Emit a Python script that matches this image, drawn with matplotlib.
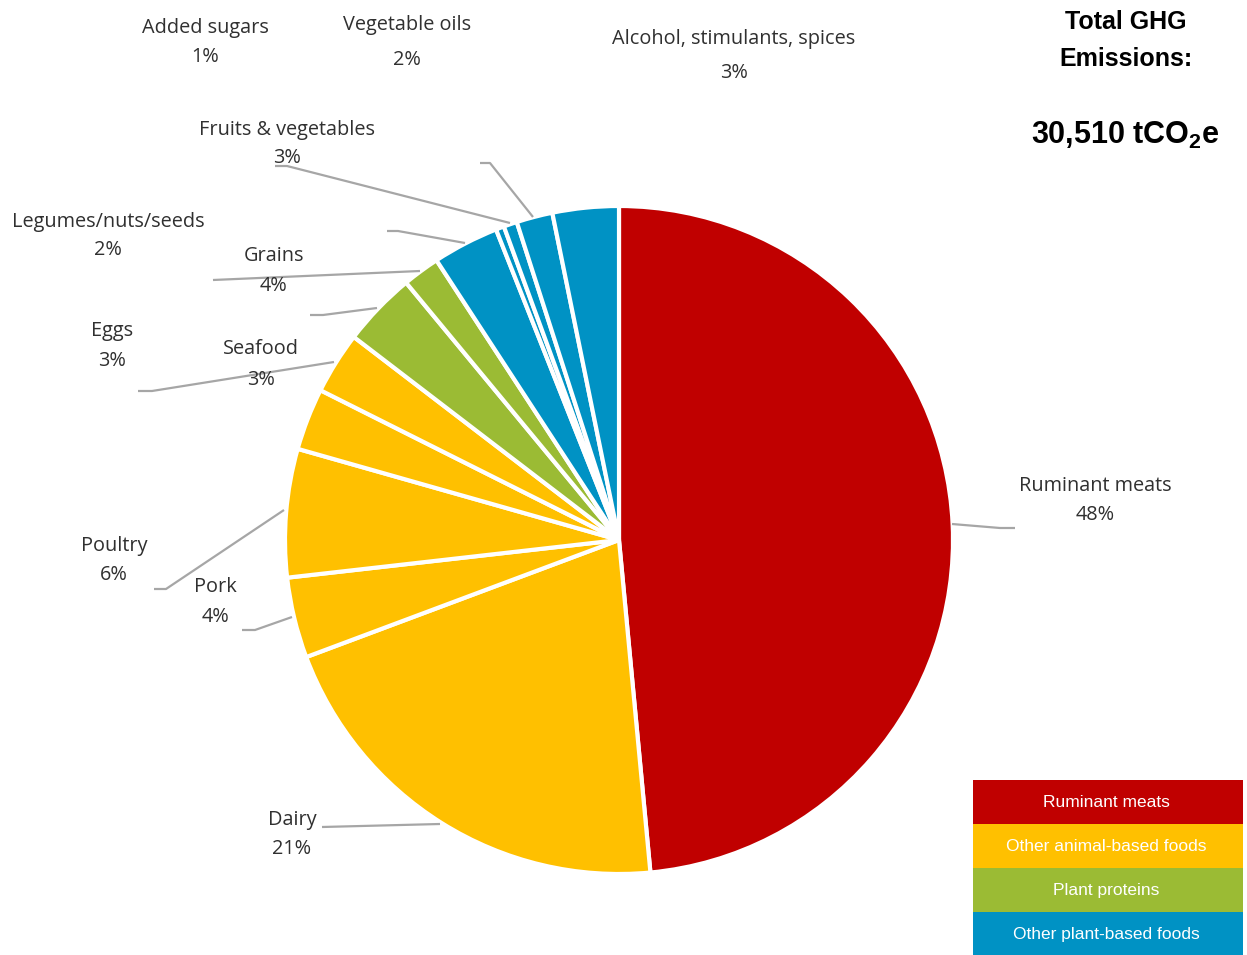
import matplotlib.pyplot as plt
from matplotlib.patches import Rectangle

# share of total emissions, % (clockwise from 12 o'clock)
foods = ["Ruminant meats", "Dairy", "Pork", "Poultry", "Eggs", "Seafood",
         "Grains", "Legumes/nuts/seeds", "Fruits & vegetables", "Other",
         "Added sugars", "Vegetable oils", "Alcohol, stimulants, spices"]
shares = [48.5, 20.8, 3.9, 6.2, 3.0, 3.0, 3.6, 1.8, 3.2, 0.4, 0.65, 1.75, 3.2]
groups = ["Ruminant meats", "Other animal-based foods", "Other animal-based foods",
          "Other animal-based foods", "Other animal-based foods", "Other animal-based foods",
          "Plant proteins", "Plant proteins", "Other plant-based foods",
          "Other plant-based foods", "Other plant-based foods", "Other plant-based foods",
          "Other plant-based foods"]
show_label = [True] * 9 + [False] + [True] * 3
total_ghg = "30,510"

group_names = ["Ruminant meats", "Other animal-based foods", "Plant proteins",
               "Other plant-based foods"]
group_colors = {"Ruminant meats": "#C00000", "Other animal-based foods": "#FFC000",
                "Plant proteins": "#9BBB34", "Other plant-based foods": "#0092C4"}

# label placement in pixels: (x, name y, pct y)
label_pos = {
    "Ruminant meats": (1095, 486, 515),
    "Dairy": (292, 820, 849),
    "Pork": (215, 587, 617),
    "Poultry": (114, 546, 575),
    "Eggs": (112, 331, 361),
    "Seafood": (261, 349, 380),
    "Grains": (274, 256, 286),
    "Legumes/nuts/seeds": (108, 222, 250),
    "Fruits & vegetables": (287, 130, 158),
    "Added sugars": (205, 28, 57),
    "Vegetable oils": (407, 25, 60),
    "Alcohol, stimulants, spices": (734, 39, 73),
}
# leader lines (pixels)
leaders = [
    [(952, 524), (1000, 528), (1015, 528)],
    [(322, 827), (440, 824)],
    [(242, 630), (255, 630), (292, 617)],
    [(154, 589), (166, 589), (284, 510)],
    [(138, 391), (152, 391), (334, 362)],
    [(310, 315), (323, 315), (377, 308)],
    [(213, 280), (420, 271)],
    [(387, 231), (398, 231), (465, 243)],
    [(275, 166), (287, 166), (510, 223)],
    [(480, 163), (490, 163), (533, 217)],
]

W, H = 1247, 955
fig = plt.figure(figsize=(W / 100, H / 100), dpi=100)
ax = fig.add_axes([0, 0, 1, 1])

# y axis runs downward, so counterclock=True draws clockwise on screen
ax.pie(shares, colors=[group_colors[g] for g in groups], center=(619, 540), radius=334,
       startangle=-90, counterclock=True,
       wedgeprops=dict(edgecolor="white", linewidth=3))
ax.set_xlim(0, W)
ax.set_ylim(H, 0)
ax.set_aspect("equal")
ax.axis("off")

for pts in leaders:
    xs, ys = zip(*pts)
    ax.plot(xs, ys, color="#A6A6A6", lw=1.6, solid_capstyle="butt")

lab_font = dict(family="Open Sans", fontsize=14.3, color="#303030", ha="center", va="center")
for name, v, show in zip(foods, shares, show_label):
    if not show:
        continue
    x, y1, y2 = label_pos[name]
    ax.text(x, y1, name, **lab_font)
    ax.text(x, y2, f"{round(v)}%", **lab_font)

plt.rcParams["mathtext.default"] = "regular"
title_font = dict(family=["Liberation Sans Narrow", "Liberation Sans"], weight="bold",
                  color="black", ha="center", va="center")
ax.text(1126, 22, "Total GHG", fontsize=18, **title_font)
ax.text(1126, 59, "Emissions:", fontsize=18, **title_font)
ax.text(1125, 135, total_ghg + r" tCO$_{2}$e", fontsize=22, **title_font)

# colour key
row_h = 44
for i, g in enumerate(group_names):
    y0 = 780 + i * row_h
    ax.add_patch(Rectangle((973, y0), 270, row_h, color=group_colors[g], lw=0))
    ax.text(1106, y0 + row_h / 2, g, family=["Liberation Sans Narrow", "Liberation Sans"],
            fontsize=12.5, color="white", ha="center", va="center")

fig.savefig("out.png", dpi=100)
